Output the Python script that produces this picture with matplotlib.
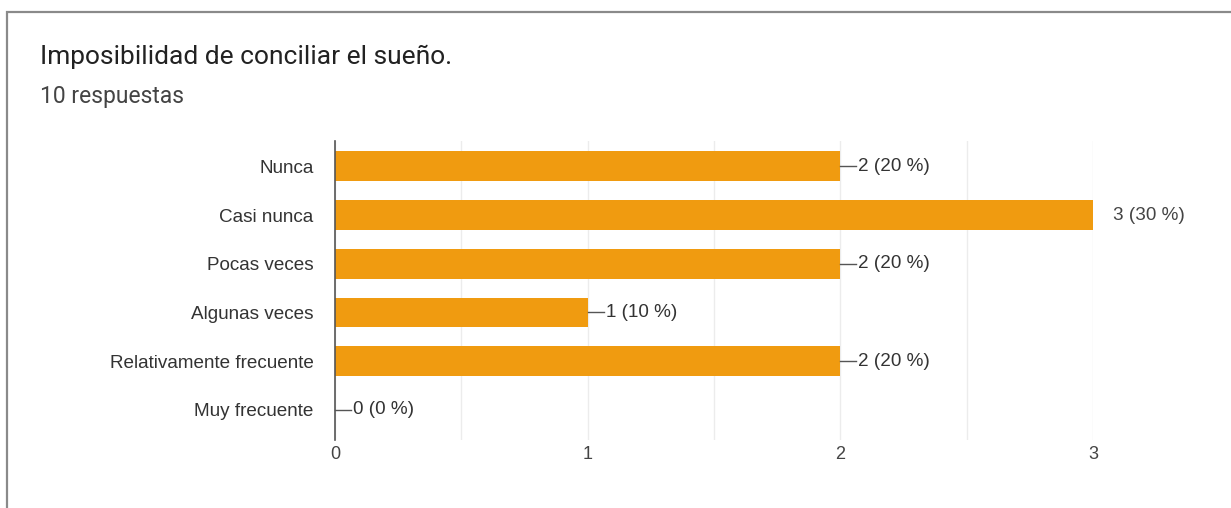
import numpy as np
import matplotlib.pyplot as plt
from matplotlib.patches import Rectangle

# datos de la encuesta
categorias = ["Nunca", "Casi nunca", "Pocas veces", "Algunas veces",
              "Relativamente frecuente", "Muy frecuente"]
respuestas = [2, 3, 2, 1, 2, 0]
total = 10
titulo = "Imposibilidad de conciliar el sueño."
subtitulo = "10 respuestas"

W, H = 1231, 508
fig = plt.figure(figsize=(W / 100, H / 100), dpi=100)
plt.rcParams['font.family'] = ['Liberation Sans', 'DejaVu Sans']

# marco de la tarjeta
fig.patches.append(Rectangle((7 / W, -0.1), 1.2, (H - 12) / H + 0.1,
                             transform=fig.transFigure, fill=False,
                             edgecolor='#8a8a8a', linewidth=1.6))

fig.text(40 / W, 1 - 57 / H, titulo, fontsize=19, color='#222222',
         va='center', family='Roboto')
fig.text(40 / W, 1 - 97 / H, subtitulo, fontsize=16.5, color='#444444',
         va='center', family='Roboto')

ax = fig.add_axes([335 / W, 1 - 440 / H, (1093 - 335) / W, (440 - 141) / H])
y = np.arange(len(categorias))
ax.barh(y, respuestas, height=0.61, color='#F09B10', zorder=3)
ax.set_ylim(len(categorias) - 0.38, -0.52)
ax.set_xlim(0, 3)
ax.set_yticks(y)
ax.set_yticklabels(categorias, fontsize=13.6, color='#333333')
ax.set_xticks([0, 1, 2, 3])
ax.set_xticklabels(['0', '1', '2', '3'], fontsize=13, color='#444444')
ax.set_xticks([0.5, 1.5, 2.5], minor=True)
ax.grid(axis='x', which='both', color='#ececec', linewidth=1, zorder=0)
ax.tick_params(axis='both', which='both', length=0, pad=4)
ax.tick_params(axis='y', pad=15.5)
for s in ['top', 'right', 'bottom']:
    ax.spines[s].set_visible(False)
ax.spines['left'].set_color('#555555')
ax.spines['left'].set_linewidth(1.2)
ax.spines['left'].set_zorder(4)

# etiquetas de valor
per_unit = (1093 - 335) / 3
for i, v in enumerate(respuestas):
    txt = f"{v} ({v * 100 // total} %)"
    if v == max(respuestas):
        ax.annotate(txt, (v, i), xytext=(14.5, 0), textcoords='offset points',
                    va='center', ha='left', fontsize=13.6, color='#444444')
    else:
        ax.plot([v, v + 16 / per_unit], [i, i], color='#555555',
                linewidth=1, zorder=4, clip_on=False)
        ax.annotate(txt, (v, i), xytext=(13, 0), textcoords='offset points',
                    va='center', ha='left', fontsize=13.6, color='#333333')

fig.savefig('out.png', dpi=100)
